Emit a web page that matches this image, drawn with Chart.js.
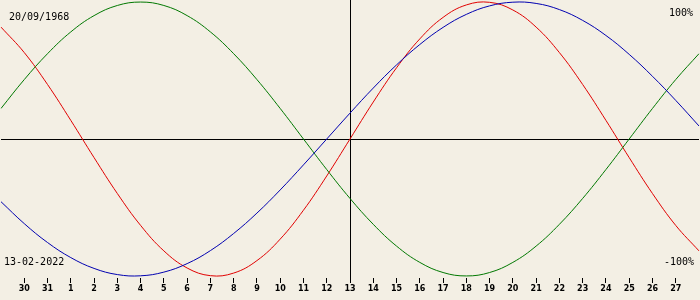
<!DOCTYPE html>
<html lang="pt-br">
<head>
  <meta charset="UTF-8" />
  <title>Biorritmo</title>
  <script src="https://cdn.jsdelivr.net/npm/chart.js"></script>
  <style>
    body { margin: 0; background: #f3efe4; }
    #wrap { position: relative; width: 700px; height: 300px; }
    .lbl { position: absolute; font: 10px/10px "DejaVu Sans Mono", monospace; color: #000; white-space: nowrap; }
  </style>
</head>
<body>
  <div id="wrap">
    <canvas id="bioChart" width="700" height="300"></canvas>
    <div class="lbl" style="left:9px; top:12px">20/09/1968</div>
    <div class="lbl" style="left:4px; top:257px">13-02-2022</div>
    <div class="lbl" style="right:7px; top:8px">100%</div>
    <div class="lbl" style="right:6px; top:257px">-100%</div>
  </div>

  <script>
    // dias: 29/01 .. 28/02 (o 13 fica no meio)
    const dias = ['29','30','31','1','2','3','4','5','6','7','8','9','10','11','12','13',
                  '14','15','16','17','18','19','20','21','22','23','24','25','26','27','28'];

    // fisico (23 dias)
    const fisico = [0.817, 0.631, 0.398, 0.136, -0.136, -0.398, -0.631, -0.817, -0.942, -0.998,
                    -0.979, -0.888, -0.731, -0.520, -0.270, 0, 0.270, 0.520, 0.731, 0.888,
                    0.979, 0.998, 0.942, 0.817, 0.631, 0.398, 0.136, -0.136, -0.398, -0.631, -0.817];

    // emocional (28 dias)
    const emocional = [0.223, 0.434, 0.623, 0.782, 0.901, 0.975, 1.0, 0.975, 0.901, 0.782,
                       0.623, 0.434, 0.223, 0, -0.223, -0.434, -0.623, -0.782, -0.901, -0.975,
                       -1.0, -0.975, -0.901, -0.782, -0.623, -0.434, -0.223, 0, 0.223, 0.434, 0.623];

    // intelectual (33 dias)
    const intelectual = [-0.458, -0.618, -0.756, -0.866, -0.945, -0.990, -0.999, -0.972, -0.910, -0.815,
                         -0.690, -0.541, -0.372, -0.189, 0, 0.189, 0.372, 0.541, 0.690, 0.815,
                         0.910, 0.972, 0.999, 0.990, 0.945, 0.866, 0.756, 0.618, 0.458, 0.282, 0.095];

    const hoje = 15; // indice do dia 13

    function serie(dados, cor) {
      return { data: dados, borderColor: cor, borderWidth: 1, pointRadius: 0, tension: 0.4, fill: false };
    }

    new Chart(document.getElementById('bioChart'), {
      type: 'line',
      data: {
        labels: dias,
        datasets: [
          serie(intelectual, '#0000b0'),
          serie(emocional, '#007800'),
          serie(fisico, '#e00000')
        ]
      },
      options: {
        responsive: false,
        animation: false,
        layout: { padding: 0 },
        plugins: { legend: { display: false }, tooltip: { enabled: false } },
        scales: {
          x: {
            offset: false,
            afterFit: s => { s.height = 22; },
            border: { display: false },
            grid: {
              color: c => c.index === hoje ? '#000' : 'transparent',
              tickColor: c => (c.index === 0 || c.index === dias.length - 1) ? 'transparent' : '#000',
              tickLength: 5
            },
            ticks: {
              autoSkip: false,
              maxRotation: 0,
              padding: 1,
              color: '#000',
              font: { family: 'DejaVu Sans', size: 8, weight: 'bold' },
              callback: (v, i) => (i === 0 || i === dias.length - 1) ? '' : dias[i]
            }
          },
          y: {
            min: -1.015,
            max: 1.015,
            afterFit: s => { s.width = 0; },
            afterBuildTicks: s => { s.ticks = [{ value: 0 }]; },
            border: { display: false },
            grid: { color: '#000', drawTicks: false },
            ticks: { display: false }
          }
        }
      }
    });
  </script>
</body>
</html>
